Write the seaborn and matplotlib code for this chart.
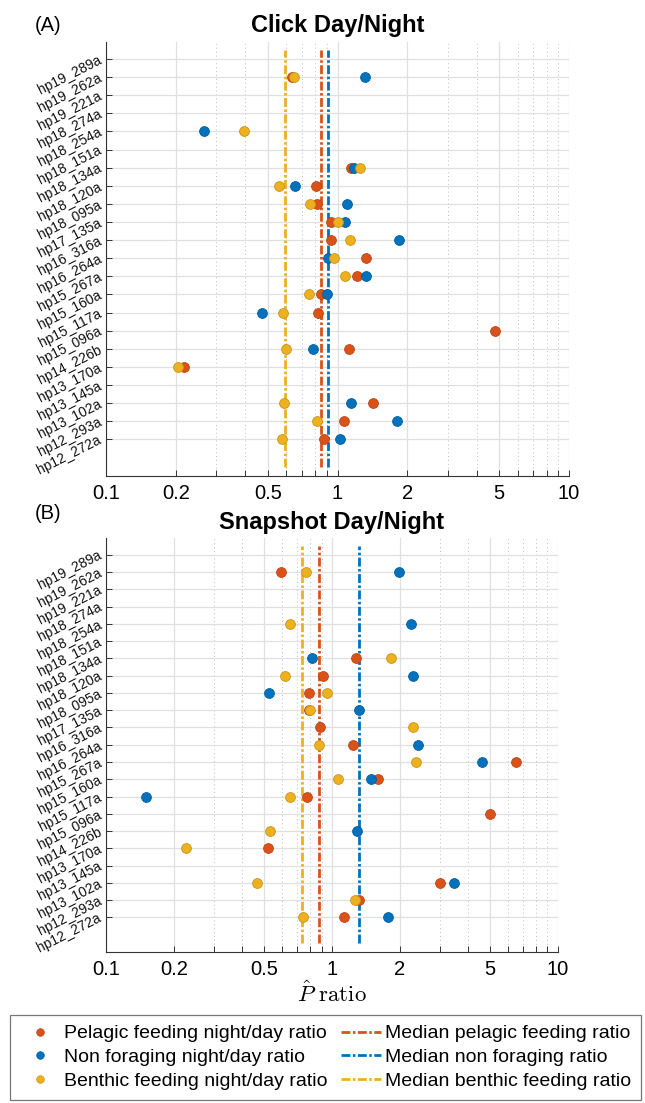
import numpy as np
import pandas as pd
import matplotlib
matplotlib.use("Agg")
import matplotlib.pyplot as plt
import seaborn as sns
from matplotlib.lines import Line2D
from matplotlib.ticker import FixedLocator, NullFormatter

sns.set_theme(style="white")
plt.rcParams["font.family"] = ["Liberation Sans", "DejaVu Sans"]
plt.rcParams["mathtext.fontset"] = "cm"
plt.rcParams["text.color"] = "black"
plt.rcParams["axes.labelcolor"] = "black"

# ---------------- data (top to bottom) ----------------
deployments = ["hp19_289a", "hp19_262a", "hp19_221a", "hp18_274a", "hp18_254a",
               "hp18_151a", "hp18_134a", "hp18_120a", "hp18_095a", "hp17_135a",
               "hp16_316a", "hp16_264a", "hp15_267a", "hp15_160a", "hp15_117a",
               "hp15_096a", "hp14_226b", "hp13_170a", "hp13_145a", "hp13_102a",
               "hp12_293a", "hp12_272a"]
nan = np.nan

click_pelagic = [nan, 0.635, nan, nan, nan, nan, 1.14, 0.809, 0.819, 0.933, 0.94,
                 1.33, 1.21, 0.847, 0.822, 4.77, 1.12, 0.218, nan, 1.43, 1.072, 0.874]
click_nonforaging = [nan, 1.32, nan, nan, 0.266, nan, 1.18, 0.655, 1.094, 1.076, 1.84,
                     0.914, 1.33, 0.90, 0.472, nan, 0.78, nan, nan, 1.14, 1.80, 1.025]
click_benthic = [nan, 0.651, nan, nan, 0.394, nan, 1.25, 0.558, 0.764, 1.0, 1.136,
                 0.964, 1.076, 0.755, 0.583, nan, 0.597, 0.205, nan, 0.588, 0.812, 0.578]
click_medians = [0.847, 0.911, 0.595]  # pelagic, non foraging, benthic

snap_pelagic = [nan, 0.597, nan, nan, nan, nan, 1.28, 0.912, 0.791, 0.79, 0.885,
                1.243, 6.56, 1.60, 0.778, 5.04, nan, 0.522, nan, 3.01, 1.32, 1.134]
snap_nonforaging = [nan, 1.99, nan, nan, 2.25, nan, 0.818, 2.29, 0.527, 1.32, nan,
                    2.41, 4.62, 1.49, 0.150, nan, 1.29, nan, nan, 3.46, nan, 1.77]
snap_benthic = [nan, 0.765, nan, nan, 0.65, nan, 1.82, 0.623, 0.954, 0.80, 2.28,
                0.879, 2.36, 1.065, 0.65, nan, 0.531, 0.225, nan, 0.466, 1.265, 0.743]
snap_medians = [0.879, 1.32, 0.74]

series_names = ["Pelagic feeding night/day ratio", "Non foraging night/day ratio",
                "Benthic feeding night/day ratio"]
median_names = ["Median pelagic feeding ratio", "Median non foraging ratio",
                "Median benthic feeding ratio"]
x_ticks = [0.1, 0.2, 0.5, 1, 2, 5, 10]
x_ticklabels = ["0.1", "0.2", "0.5", "1", "2", "5", "10"]

colors = ["#D95319", "#0072BD", "#EDB120"]
edge_colors = ["#B8461A", "#005F9F", "#C9961A"]
DASH = (0, (3.2, 0.9, 0.9, 0.9))

n = len(deployments)
ypos = np.arange(n, 0, -1)  # top row -> n, bottom row -> 1

W, H = 645, 1103
fig = plt.figure(figsize=(W / 100, H / 100), dpi=100)
axA = fig.add_axes([106 / W, 1 - 475.7 / H, 463 / W, (475.7 - 41.7) / H])
axB = fig.add_axes([106 / W, 1 - 952 / H, 451.7 / W, (952 - 538.3) / H])


def draw_panel(ax, vals_list, medians, title):
    for vals, c, ec in zip(vals_list, colors, edge_colors):
        df = pd.DataFrame({"ratio": vals, "y": ypos, "deployment": deployments}).dropna()
        sns.scatterplot(data=df, x="ratio", y="y", color=c, edgecolor=ec,
                        linewidth=0.6, s=50, ax=ax, zorder=3, legend=False)
    for m, c in zip(medians, colors):
        ax.vlines(m, -0.5, n + 0.5, colors=c, linewidth=2.0, linestyles=[DASH], zorder=2)
    ax.set_xscale("log")
    ax.set_xlim(0.1, 10)
    ax.set_ylim(-1, n + 0.95)
    ax.set_xticks(x_ticks)
    ax.set_xticklabels(x_ticklabels)
    ax.xaxis.set_minor_locator(FixedLocator([0.3, 0.4, 0.6, 0.7, 0.8, 0.9,
                                             3, 4, 6, 7, 8, 9]))
    ax.xaxis.set_minor_formatter(NullFormatter())
    ax.set_yticks(ypos)
    ax.set_yticklabels(deployments, rotation=27, ha="right", va="center",
                       rotation_mode="anchor", fontsize=10)
    ax.set_xlabel("")
    ax.set_ylabel("")
    ax.grid(which="major", axis="both", color="#e0e0e0", linewidth=0.9, linestyle="-", zorder=0)
    ax.grid(which="minor", axis="x", color="#bdbdbd", linewidth=0.7,
            linestyle=(0, (1, 3)), zorder=0)
    ax.set_axisbelow(True)
    ax.tick_params(axis="x", which="both", bottom=True, direction="in", length=4,
                   width=0.7, color="#333333", labelsize=14.5, pad=6, labelcolor="black")
    ax.tick_params(axis="y", which="major", left=True, direction="in", length=4,
                   width=0.7, color="#333333", pad=4, labelcolor="#111111")
    ax.tick_params(axis="y", which="minor", left=False)
    for s in ["top", "right"]:
        ax.spines[s].set_visible(False)
    for s in ["left", "bottom"]:
        ax.spines[s].set_color("#333333")
        ax.spines[s].set_linewidth(0.8)
    ax.set_title(title, fontsize=17, fontweight="bold", pad=7, color="black")


draw_panel(axA, [click_pelagic, click_nonforaging, click_benthic], click_medians,
           "Click Day/Night")
draw_panel(axB, [snap_pelagic, snap_nonforaging, snap_benthic], snap_medians,
           "Snapshot Day/Night")
axB.set_xlabel(r"$\hat{P}\ \mathrm{ratio}$", fontsize=16.5, labelpad=2)

fig.text(48 / W, 1 - 25.8 / H, "(A)", fontsize=14.5, ha="center", va="center")
fig.text(48 / W, 1 - 513.5 / H, "(B)", fontsize=14.5, ha="center", va="center")

handles = [Line2D([], [], ls="none", marker="o", ms=5.5, color=c, markeredgecolor=ec,
                  markeredgewidth=0.5) for c, ec in zip(colors, edge_colors)]
handles += [Line2D([], [], color=c, lw=2.0, ls=DASH) for c in colors]
leg = fig.legend(handles, series_names + median_names, ncol=2, loc="upper left",
                 bbox_to_anchor=(10.3 / W, 1 - 1015 / H), bbox_transform=fig.transFigure,
                 borderaxespad=0, fontsize=14, frameon=True, fancybox=False,
                 edgecolor="#555555", handlelength=2.06, handletextpad=0.2,
                 columnspacing=0.7, labelspacing=0.32, borderpad=0.5)
leg.get_frame().set_linewidth(0.9)
for t in leg.get_texts():
    t.set_color("black")

fig.savefig("out.png", dpi=100)
